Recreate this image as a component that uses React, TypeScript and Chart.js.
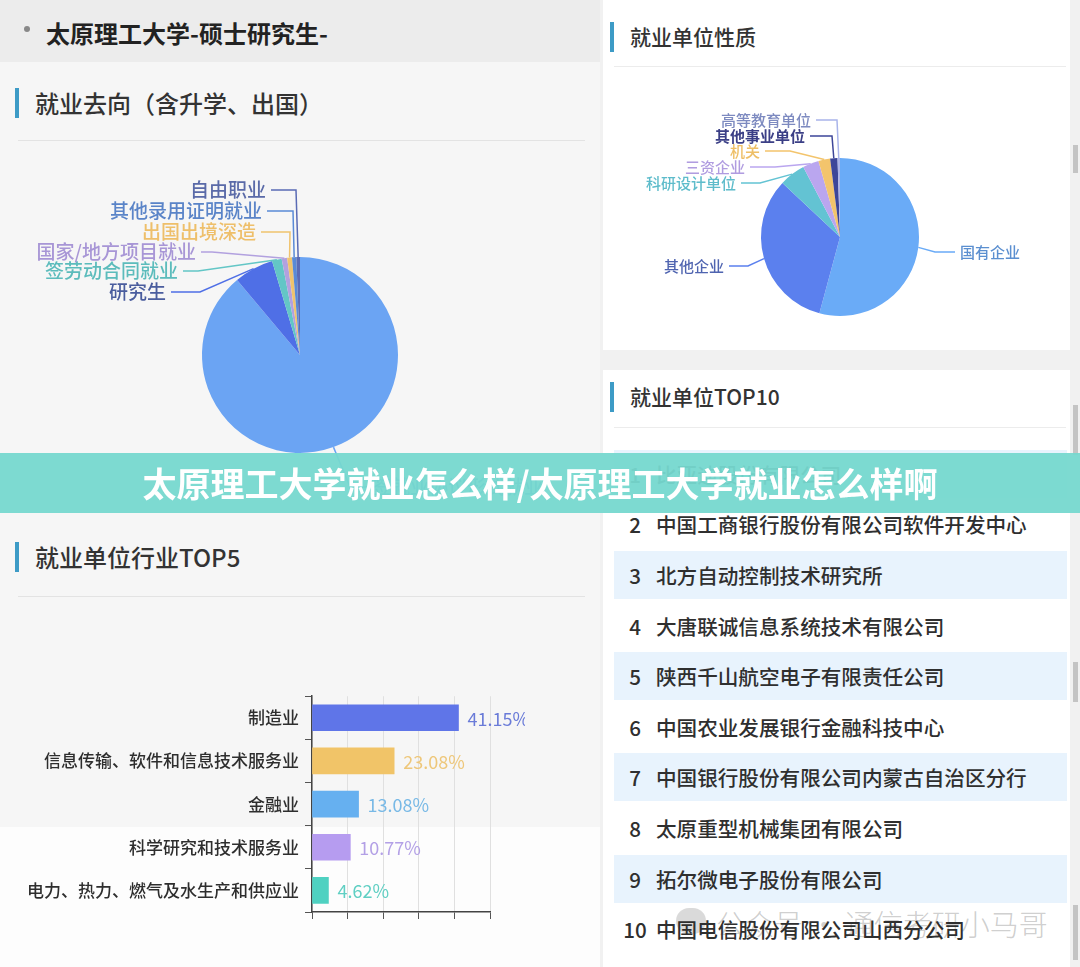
import React, { useEffect, useRef } from "react";
import { Chart, registerables } from "chart.js";
Chart.register(...registerables);

const FONT = '"Noto Sans CJK SC", "Noto Sans", sans-serif';

// ---- 就业去向 (pie) ----
const destLabels = ["签就业协议形式就业", "研究生", "签劳动合同就业", "国家/地方项目就业", "出国出境深造", "其他录用证明就业", "自由职业"];
const destValues = [88.9, 6.5, 1.6, 0.9, 0.8, 0.7, 0.6];
const destColors = ["#6ba4f3", "#4f6fe6", "#63c6c6", "#b2a1df", "#f0c36d", "#5a8ad6", "#5a6bb5"];
const destTextColors = ["#5b8fd8", "#4a5d9e", "#5cbcbc", "#a896d6", "#eebf6a", "#5a84c8", "#5a6aa8"];

// ---- 就业单位性质 (pie) ----
const natureLabels = ["国有企业", "其他企业", "科研设计单位", "三资企业", "机关", "其他事业单位", "高等教育单位"];
const natureValues = [54.2, 32.8, 5.3, 3.3, 2.4, 1.5, 0.5];
const natureColors = ["#6aabf7", "#5b80ee", "#63c3d3", "#baa6ef", "#f3c46c", "#3d4699", "#a9b4ea"];
const natureTextColors = ["#5b8fd0", "#4f64b0", "#5ebccb", "#b09ce0", "#eebf66", "#3b3f86", "#7d8ac0"];

// ---- 就业单位行业TOP5 (bar) ----
const industryLabels = ["制造业", "信息传输、软件和信息技术服务业", "金融业", "科学研究和技术服务业", "电力、热力、燃气及水生产和供应业"];
const industryValues = [41.15, 23.08, 13.08, 10.77, 4.62];
const industryColors = ["#5f75e8", "#f1c468", "#66b0f0", "#b69cf0", "#4fd1c1"];
const industryTextColors = ["#6a7bd8", "#eec77a", "#78b9e6", "#b3a0e6", "#5fcfc3"];
const industryAxisMax = 50;
const industryAxisStep = 10;

// ---- 就业单位TOP10 ----
const top10Units = [
  "比亚迪股份有限公司",
  "中国工商银行股份有限公司软件开发中心",
  "北方自动控制技术研究所",
  "大唐联诚信息系统技术有限公司",
  "陕西千山航空电子有限责任公司",
  "中国农业发展银行金融科技中心",
  "中国银行股份有限公司内蒙古自治区分行",
  "太原重型机械集团有限公司",
  "拓尔微电子股份有限公司",
  "中国电信股份有限公司山西分公司",
];

// label layout (page coordinates) for leader lines
const destLabelLayout = [
  { x: 372, y: 487, elbowX: 350, align: "left" },
  { x: 166, y: 292, elbowX: 200, align: "right" },
  { x: 178, y: 271, elbowX: 198, align: "right" },
  { x: 196, y: 252, elbowX: 212, align: "right" },
  { x: 256, y: 232, elbowX: 290, align: "right" },
  { x: 262, y: 211, elbowX: 293, align: "right" },
  { x: 266, y: 190, elbowX: 296, align: "right" },
];
const natureLabelLayout = [
  { x: 960, y: 252, elbowX: 935, align: "left" },
  { x: 724, y: 266, elbowX: 748, align: "right" },
  { x: 736, y: 183, elbowX: 760, align: "right" },
  { x: 745, y: 167, elbowX: 775, align: "right" },
  { x: 760, y: 151, elbowX: 790, align: "right" },
  { x: 805, y: 136, elbowX: 832, align: "right", bold: true },
  { x: 811, y: 120, elbowX: 837, align: "right" },
];

const pieLabelPlugin = {
  id: "pieLabels",
  afterDatasetsDraw(chart: any, _args: any, opts: any) {
    if (!opts || !opts.items) return;
    const ctx = chart.ctx;
    const meta = chart.getDatasetMeta(0);
    const ox = opts.offsetX, oy = opts.offsetY;
    ctx.save();
    meta.data.forEach((arc: any, i: number) => {
      const it = opts.items[i];
      if (!it) return;
      const p = arc.getProps(["x", "y", "startAngle", "endAngle", "outerRadius"], true);
      const a = (p.startAngle + p.endAngle) / 2;
      const px = p.x + Math.cos(a) * p.outerRadius;
      const py = p.y + Math.sin(a) * p.outerRadius;
      const ly = it.y - oy;
      const ex = it.elbowX - ox;
      const tx = it.x - ox;
      const endX = it.align === "left" ? tx - 5 : tx + 5;
      ctx.strokeStyle = opts.lineColors[i];
      ctx.lineWidth = 1.5;
      ctx.beginPath();
      ctx.moveTo(px, py);
      ctx.lineTo(ex, ly);
      ctx.lineTo(endX, ly);
      ctx.stroke();
      ctx.font = `${it.bold ? "bold" : "500"} ${opts.fontSize}px ${FONT}`;
      ctx.fillStyle = opts.textColors[i];
      ctx.textAlign = it.align === "left" ? "left" : "right";
      ctx.textBaseline = "middle";
      ctx.fillText(opts.labels[i], tx, ly);
    });
    ctx.restore();
  },
};

const barValuePlugin = {
  id: "barValues",
  afterDatasetsDraw(chart: any, _args: any, opts: any) {
    if (!opts || !opts.colors) return;
    const ctx = chart.ctx;
    const meta = chart.getDatasetMeta(0);
    const ds = chart.data.datasets[0].data;
    ctx.save();
    ctx.font = `18px ${FONT}`;
    ctx.textAlign = "left";
    ctx.textBaseline = "middle";
    meta.data.forEach((bar: any, i: number) => {
      ctx.fillStyle = opts.colors[i];
      ctx.fillText(`${ds[i].toFixed(2)}%`, bar.x + 9, bar.y + 1);
    });
    ctx.restore();
  },
};

function ChartBox({ config, style }: { config: any; style: React.CSSProperties }) {
  const ref = useRef<HTMLCanvasElement>(null);
  useEffect(() => {
    const chart = new Chart(ref.current as HTMLCanvasElement, config);
    return () => chart.destroy();
  }, []);
  return (
    <div style={{ position: "absolute", ...style }}>
      <canvas ref={ref} style={{ width: "100%", height: "100%", display: "block" }} />
    </div>
  );
}

function pieConfig(labels: string[], values: number[], colors: string[], textColors: string[], layout: any[], box: any, center: any, fontSize: number) {
  return {
    type: "pie",
    data: { labels, datasets: [{ data: values, backgroundColor: colors, borderWidth: 0 }] },
    options: {
      responsive: false,
      animation: false,
      layout: {
        padding: {
          left: center.x - center.r - box.left,
          right: box.left + box.width - (center.x + center.r),
          top: center.y - center.r - box.top,
          bottom: box.top + box.height - (center.y + center.r),
        },
      },
      plugins: {
        legend: { display: false },
        tooltip: { enabled: false },
        pieLabels: {
          items: layout,
          offsetX: box.left,
          offsetY: box.top,
          labels,
          lineColors: colors,
          textColors,
          fontSize,
        },
      },
    },
    plugins: [pieLabelPlugin],
  };
}

const destBox = { left: 0, top: 140, width: 600, height: 380 };
const natureBox = { left: 603, top: 70, width: 467, height: 280 };
const barBox = { left: 0, top: 680, width: 525, height: 250 };

const destConfig = pieConfig(destLabels, destValues, destColors, destTextColors, destLabelLayout, destBox, { x: 300, y: 355, r: 98 }, 19);
const natureConfig = pieConfig(natureLabels, natureValues, natureColors, natureTextColors, natureLabelLayout, natureBox, { x: 840, y: 237, r: 79 }, 15);

const barConfig = {
  type: "bar",
  data: {
    labels: industryLabels,
    datasets: [{ data: industryValues, backgroundColor: industryColors, barThickness: 26, borderWidth: 0 }],
  },
  options: {
    indexAxis: "y",
    responsive: false,
    animation: false,
    layout: { padding: { left: 0, right: barBox.width - 490, top: 15, bottom: 0 } },
    scales: {
      x: {
        min: 0,
        max: industryAxisMax,
        ticks: { display: false, stepSize: industryAxisStep },
        grid: { color: "#e0e0e0", drawTicks: true, tickLength: 7, tickColor: "#555" },
        border: { color: "#444", width: 1.5 },
        afterFit: (s: any) => { s.height = 18; },
      },
      y: {
        ticks: { color: "#2e2e2e", font: { size: 17, family: FONT, weight: "500" }, padding: 6 },
        grid: { drawOnChartArea: false, drawTicks: true, tickLength: 7, color: "#555" },
        border: { color: "#444", width: 1.5 },
        afterFit: (s: any) => { s.width = 312; },
      },
    },
    plugins: {
      legend: { display: false },
      tooltip: { enabled: false },
      barValues: { colors: industryTextColors },
    },
  },
  plugins: [barValuePlugin],
};

function SectionTitle({ x, y, text, size }: { x: number; y: number; text: string; size: number }) {
  return (
    <>
      <div style={{ position: "absolute", left: x - 20, top: y - 15, width: 4, height: 30, background: "#3d9bc6" }} />
      <div style={{ position: "absolute", left: x, top: y - size * 0.75, fontSize: size, lineHeight: `${size * 1.5}px`, color: "#333", fontWeight: 500, whiteSpace: "nowrap" }}>{text}</div>
    </>
  );
}

export default function App() {
  const rowStart = 448.5;
  const rowStep = 50.6;
  return (
    <div style={{ position: "absolute", left: 0, top: 0, width: 1080, height: 967, overflow: "hidden", background: "#f1f1f1", fontFamily: FONT }}>
      {/* left panel backgrounds */}
      <div style={{ position: "absolute", left: 0, top: 0, width: 600, height: 62, background: "#ececec" }} />
      <div style={{ position: "absolute", left: 0, top: 62, width: 600, height: 765, background: "#f6f6f6" }} />
      <div style={{ position: "absolute", left: 0, top: 827, width: 600, height: 140, background: "#fdfdfd" }} />
      {/* right panels */}
      <div style={{ position: "absolute", left: 603, top: 0, width: 467, height: 350, background: "#ffffff" }} />
      <div style={{ position: "absolute", left: 603, top: 370, width: 467, height: 597, background: "#ffffff" }} />
      {/* scrollbar pieces */}
      <div style={{ position: "absolute", left: 1073, top: 145, width: 5, height: 28, background: "#c4c4c4" }} />
      <div style={{ position: "absolute", left: 1073, top: 405, width: 5, height: 50, background: "#c4c4c4" }} />
      <div style={{ position: "absolute", left: 1073, top: 662, width: 5, height: 40, background: "#c4c4c4" }} />
      <div style={{ position: "absolute", left: 1073, top: 905, width: 5, height: 55, background: "#c4c4c4" }} />

      {/* header */}
      <div style={{ position: "absolute", left: 24, top: 26, width: 6, height: 6, borderRadius: 3, background: "#888" }} />
      <div style={{ position: "absolute", left: 46, top: 15, fontSize: 24, lineHeight: "36px", fontWeight: 700, color: "#222", whiteSpace: "nowrap" }}>太原理工大学-硕士研究生-</div>

      <SectionTitle x={35} y={103} text="就业去向（含升学、出国）" size={24} />
      <div style={{ position: "absolute", left: 18, top: 140, width: 567, height: 1, background: "#e3e3e3" }} />
      <SectionTitle x={35} y={557} text="就业单位行业TOP5" size={24} />
      <div style={{ position: "absolute", left: 18, top: 596, width: 567, height: 1, background: "#e3e3e3" }} />

      <SectionTitle x={630} y={37} text="就业单位性质" size={21} />
      <div style={{ position: "absolute", left: 614, top: 66, width: 452, height: 1, background: "#ececec" }} />
      <SectionTitle x={630} y={397} text="就业单位TOP10" size={21} />
      <div style={{ position: "absolute", left: 614, top: 427, width: 452, height: 1, background: "#ececec" }} />

      {/* watermark (behind table text) */}
      <div style={{ position: "absolute", left: 676, top: 908, width: 30, height: 26, borderRadius: 13, background: "rgba(150,150,150,0.35)" }} />
      <div style={{ position: "absolute", left: 716, top: 903, fontSize: 29, lineHeight: "40px", fontWeight: 300, color: "rgba(130,130,130,0.4)", whiteSpace: "nowrap" }}>公众号 · 通信考研小马哥</div>

      {/* charts */}
      <ChartBox config={destConfig} style={{ left: destBox.left, top: destBox.top, width: destBox.width, height: destBox.height }} />
      <ChartBox config={natureConfig} style={{ left: natureBox.left, top: natureBox.top, width: natureBox.width, height: natureBox.height }} />
      <ChartBox config={barConfig} style={{ left: barBox.left, top: barBox.top, width: barBox.width, height: barBox.height }} />

      {/* top10 table */}
      {top10Units.map((name, i) => {
        const cy = rowStart + rowStep * i + 25.3;
        return (
          <div key={i}>
            {i % 2 === 0 && (
              <div style={{ position: "absolute", left: 614, top: cy - 24, width: 453, height: 48, background: "#e8f3fd" }} />
            )}
            <div style={{ position: "absolute", left: 615, top: cy - 15, width: 40, textAlign: "center", fontSize: 20.6, lineHeight: "30px", fontWeight: 500, color: "#2f2f2f" }}>{i + 1}</div>
            <div style={{ position: "absolute", left: 656, top: cy - 15, fontSize: 20.6, lineHeight: "30px", fontWeight: 500, color: "#2f2f2f", whiteSpace: "nowrap" }}>{name}</div>
          </div>
        );
      })}

      {/* banner */}
      <div style={{ position: "absolute", left: 0, top: 453, width: 1080, height: 60, background: "rgba(118,216,207,0.95)", zIndex: 10 }} />
      <div style={{ position: "absolute", left: 0, top: 453, width: 1080, height: 60, zIndex: 11, textAlign: "center", fontSize: 34, lineHeight: "60px", fontWeight: 700, color: "#ffffff", whiteSpace: "nowrap" }}>太原理工大学就业怎么样/太原理工大学就业怎么样啊</div>
    </div>
  );
}
